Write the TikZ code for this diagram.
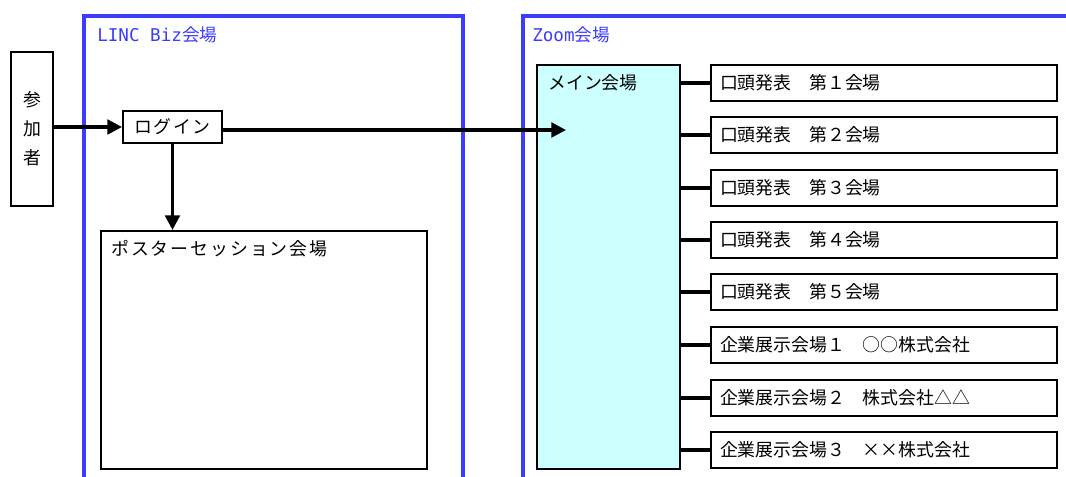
\documentclass[tikz,border=0pt]{standalone}
\usepackage{fontspec}
\setmainfont{Noto Sans CJK JP}
\newfontfamily\monofnt{DejaVu Sans Mono}
\usetikzlibrary{arrows.meta,positioning}
\definecolor{frameblue}{RGB}{60,60,255}
\definecolor{maincyan}{RGB}{204,255,255}
\tikzset{
  box/.style={draw=black, line width=1.5pt, inner sep=0pt},
  hallbox/.style={draw=black, line width=1.5pt, minimum width=259.5pt, minimum height=27pt,
    text width=246pt, align=left, inner xsep=6.75pt, inner ysep=0pt, font=\fontsize{13.4}{15}\selectfont},
  frame/.style={draw=frameblue, line width=3pt},
  framelbl/.style={text=frameblue, anchor=west, inner sep=0pt, font=\fontsize{13.2}{15}\selectfont},
  conn/.style={line width=2.4pt},
  arr/.style={conn, -{Triangle[length=11pt,width=11pt]}},
  lbl/.style={anchor=west, inner sep=0pt, font=\fontsize{13.4}{15}\selectfont}
}
\begin{document}
\begin{tikzpicture}[x=0.75pt,y=-0.75pt]
\useasboundingbox (0,0) rectangle (1066,477);
\begin{scope}
\clip (0,0) rectangle (1066,477);
\draw[frame] (84,490) -- (84,16) -- (463,16) -- (463,490);
\draw[frame] (523,490) -- (523,16) -- (1090,16);
\end{scope}
\node[framelbl] (lincl) at (97,35) {{\monofnt LINC Biz}会場};
\node[framelbl] (zooml) at (532,35) {{\monofnt Zoom}会場};

% participant
\node[box, minimum width=31.5pt, minimum height=115.5pt, align=center,
  font=\fontsize{13.4}{21.75}\selectfont] (part) at (32,129) {参\\加\\者};
% login
\node[box, minimum width=74.25pt, minimum height=24pt, font=\fontsize{13.4}{15}\selectfont] (login) at (172.5,127) {\addfontfeatures{LetterSpace=9}ログイン};
% poster
\node[box, minimum width=244.5pt, minimum height=178.5pt] (poster) at (264,350) {};
\node[lbl] (posterl) at (111,249) {\addfontfeatures{LetterSpace=11}ポスターセッション会場};
% main
\node[box, fill=maincyan, minimum width=107.25pt, minimum height=303pt] (main) at (608.5,267) {};
\node[lbl] (mainl) at (548,83) {メイン会場};

% arrows
\draw[arr] (part.east |- login.west) -- (login.west);
\draw[arr] (login.south) -- (login.south |- poster.north);
\coordinate (tip) at (566,130);
\draw[arr] (login.east |- tip) -- (tip);

% hall boxes
\foreach \n/\yy/\t in {1/83/口頭発表　第１会場, 2/135/口頭発表　第２会場, 3/188/口頭発表　第３会場,
  4/240/口頭発表　第４会場, 5/292/口頭発表　第５会場, 6/345/企業展示会場１　○○株式会社,
  7/398/企業展示会場２　株式会社△△, 8/450/企業展示会場３　××株式会社}{
  \node[hallbox] (h\n) at (884,\yy) {\t};
  \draw[conn] (main.east |- h\n.west) -- (h\n.west);
}
\end{tikzpicture}
\end{document}
